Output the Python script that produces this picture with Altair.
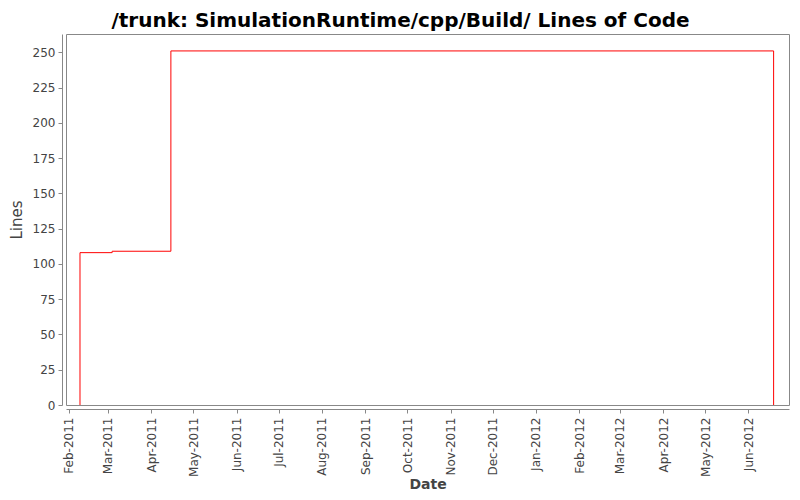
import altair as alt
import pandas as pd

dates = ["2011-02-09", "2011-02-09", "2011-03-04", "2011-04-15", "2012-06-19", "2012-06-19"]
lines = [0, 108, 109, 251, 251, 0]
month_ticks = ["2011-02-01", "2011-03-01", "2011-04-01", "2011-05-01", "2011-06-01", "2011-07-01",
               "2011-08-01", "2011-09-01", "2011-10-01", "2011-11-01", "2011-12-01", "2012-01-01",
               "2012-02-01", "2012-03-01", "2012-04-01", "2012-05-01", "2012-06-01"]
y_ticks = [0, 25, 50, 75, 100, 125, 150, 175, 200, 225, 250]

df = pd.DataFrame({"date": pd.to_datetime(dates), "lines": lines})
tick_vals = [alt.DateTime(year=int(d[:4]), month=int(d[5:7]), date=int(d[8:10])) for d in month_ticks]

chart = alt.Chart(df).mark_line(interpolate="step-after", color="#ff0000", strokeWidth=1).encode(
    x=alt.X("date:T", title="Date",
            scale=alt.Scale(domain=[alt.DateTime(year=2011, month=1, date=30),
                                    alt.DateTime(year=2012, month=6, date=30)], nice=False),
            axis=alt.Axis(values=tick_vals, format="%b-%Y", labelAngle=270, labelAlign="right",
                          labelBaseline="middle", offset=4, grid=False, tickSize=4,
                          labelPadding=4, titlePadding=1, titleFontWeight="bold")),
    y=alt.Y("lines:Q", title="Lines",
            scale=alt.Scale(domain=[0, 263], nice=False),
            axis=alt.Axis(values=y_ticks, offset=4, grid=False, tickSize=4, labelPadding=3,
                          titlePadding=8, titleFontWeight="normal", titleFontSize=15)),
).properties(
    width=723, height=371,
    title=alt.Title("/trunk: SimulationRuntime/cpp/Build/ Lines of Code", fontSize=20,
                    font="DejaVu Sans", fontWeight="bold", color="#000000", anchor="middle",
                    dx=-27, offset=3),
    autosize=alt.AutoSizeParams(type="none"),
    padding={"left": 58, "top": 26, "right": 3, "bottom": 87},
).configure_view(stroke="#888888", strokeWidth=1).configure_axis(
    domainColor="#888888", tickColor="#888888", labelColor="#444444", titleColor="#444444",
    labelFont="DejaVu Sans", titleFont="DejaVu Sans", labelFontSize=12, titleFontSize=14,
    labelFontWeight="normal"
)

chart.save("out.html", embed_options={"renderer": "svg", "actions": False})
